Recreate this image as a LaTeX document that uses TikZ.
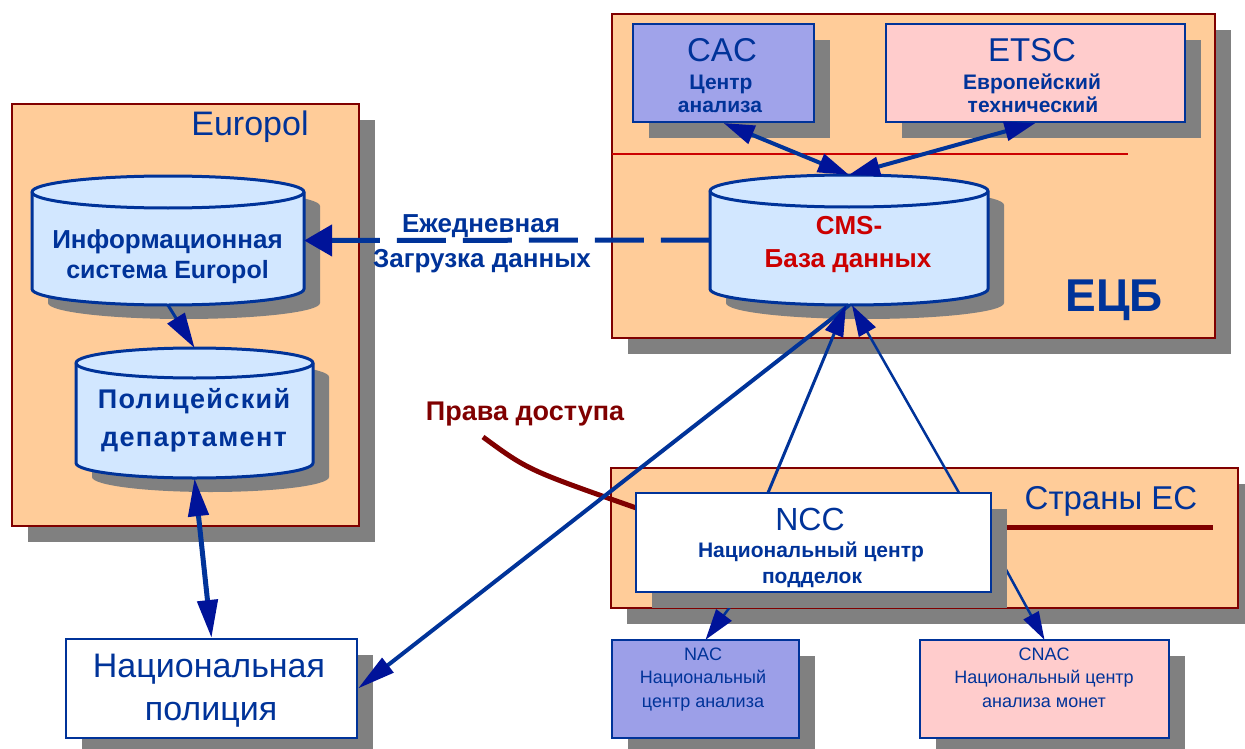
\documentclass[tikz,border=0pt]{standalone}
\usepackage{fontspec}
\setmainfont{Liberation Sans}
\newfontfamily\spbf[LetterSpace=5]{Liberation Sans}
\usetikzlibrary{arrows.meta,shadows,calc}
\definecolor{peach}{HTML}{FFCC99}
\definecolor{bordred}{HTML}{800000}
\definecolor{shad}{HTML}{808080}
\definecolor{dblue}{HTML}{003399}
\definecolor{ablue}{HTML}{001399}
\definecolor{cylfill}{HTML}{D2E7FF}
\definecolor{cacfill}{HTML}{A0A3EA}
\definecolor{nacfill}{HTML}{9C9FE8}
\definecolor{pinkfill}{HTML}{FFCCCC}
\definecolor{lred}{HTML}{CC0000}
\newcommand{\fsz}[1]{\fontsize{#1pt}{#1pt}\selectfont}
\newcommand{\drawcyl}[5]{%
\pgfmathsetmacro\cyCX{(#1+#3)/2}%
\pgfmathsetmacro\cyKX{0.5523*(#3-#1)/2}%
\pgfmathsetmacro\cyKY{0.5523*#5}%
\pgfmathsetmacro\cyTY{#2+#5}%
\pgfmathsetmacro\cyBY{#4-#5}%
\fill[shad, shift={(16,14)}] (#1,\cyTY) -- (#1,\cyBY) .. controls (#1,\cyBY+\cyKY) and (\cyCX-\cyKX,#4) .. (\cyCX,#4) .. controls (\cyCX+\cyKX,#4) and (#3,\cyBY+\cyKY) .. (#3,\cyBY) -- (#3,\cyTY) .. controls (#3,\cyTY-\cyKY) and (\cyCX+\cyKX,#2) .. (\cyCX,#2) .. controls (\cyCX-\cyKX,#2) and (#1,\cyTY-\cyKY) .. (#1,\cyTY) -- cycle;
\filldraw[fill=cylfill, draw=dblue, line width=3pt, line join=round] (#1,\cyTY) -- (#1,\cyBY) .. controls (#1,\cyBY+\cyKY) and (\cyCX-\cyKX,#4) .. (\cyCX,#4) .. controls (\cyCX+\cyKX,#4) and (#3,\cyBY+\cyKY) .. (#3,\cyBY) -- (#3,\cyTY) .. controls (#3,\cyTY-\cyKY) and (\cyCX+\cyKX,#2) .. (\cyCX,#2) .. controls (\cyCX-\cyKX,#2) and (#1,\cyTY-\cyKY) .. (#1,\cyTY) -- cycle;
\draw[dblue, line width=3pt] (#1,\cyTY) .. controls (#1,\cyTY+\cyKY) and (\cyCX-\cyKX,#2+2*#5) .. (\cyCX,#2+2*#5) .. controls (\cyCX+\cyKX,#2+2*#5) and (#3,\cyTY+\cyKY) .. (#3,\cyTY);
}
\begin{document}
\begin{tikzpicture}[x=1pt,y=-1pt,
  bigbox/.style={draw=bordred, line width=2pt, fill=peach, inner sep=0pt,
    drop shadow={shadow xshift=16pt, shadow yshift=-16pt, fill=shad, opacity=1}},
  bluebox/.style={draw=dblue, line width=2pt, inner sep=0pt,
    drop shadow={shadow xshift=16pt, shadow yshift=-16pt, fill=shad, opacity=1}},
  ghost/.style={inner sep=0pt},
  txt/.style={text=dblue, inner sep=0pt, anchor=base},
  conn/.style={draw=dblue},
  HeadS/.tip={Triangle[length=31pt,width=19pt,color=ablue]},
  HeadM/.tip={Triangle[length=35pt,width=20pt,color=ablue]},
  HeadD/.tip={Triangle[length=28pt,width=31pt,color=ablue]},
  HeadL/.tip={Triangle[length=38pt,width=20pt,color=ablue]}]
\useasboundingbox (0,0) rectangle (1245,749);
\fill[white] (0,0) rectangle (1245,749);

% large frames
\node[bigbox, minimum width=603pt, minimum height=324pt] (ecb) at (913.5,176) {};
\node[bigbox, minimum width=347pt, minimum height=422pt] (europol) at (185.5,315) {};
\node[bigbox, minimum width=627pt, minimum height=140pt] (eu) at (924.5,538) {};

% red line in ECB
\coordinate (redL) at (612,154);
\coordinate (redR) at (1128,154);
\draw[lred, line width=2pt] (redL) -- (redR);

% CAC and ETSC
\node[bluebox, fill=cacfill, minimum width=181pt, minimum height=98pt] (cac) at (723.5,73) {};
\node[bluebox, fill=pinkfill, minimum width=299pt, minimum height=98pt] (etsc) at (1035.5,73) {};

% cylinders
\drawcyl{710}{175}{988}{305}{16}
\node[ghost, minimum width=278pt, minimum height=130pt] (cms) at (849,240) {};
\drawcyl{32}{176}{304}{305}{16}
\node[ghost, minimum width=272pt, minimum height=129pt] (info) at (168,240.5) {};
\drawcyl{76}{348}{313}{478}{15}
\node[ghost, minimum width=237pt, minimum height=130pt] (pdept) at (194.5,413) {};

% dark red line under "Страны ЕС"
\coordinate (euL) at (1000,527);
\coordinate (euR) at (1213,527);
\draw[bordred, line width=5pt] (euL) -- (euR);

% NCC placeholder for connectors drawn beneath it
\node[ghost, minimum width=355pt, minimum height=99pt] (ncc) at (813.5,542.5) {};

% access rights curve
\coordinate (prS) at (483,437);
\draw[bordred, line width=5pt] (prS) .. controls (528,470) .. ([yshift=-15pt]ncc.north west);

% lower boxes
\node[ghost, minimum width=187pt, minimum height=98pt] (nac) at (705.5,689) {};
\node[ghost, minimum width=249pt, minimum height=98pt] (cnac) at (1044.5,689) {};
\draw[conn, line width=2.5pt, -{Triangle[length=31pt,width=19pt,color=ablue]}] ([xshift=-72.5pt]ncc.south) -- (nac.north);
\draw[conn, line width=2.5pt, -{Triangle[length=28pt,width=17pt,color=ablue]}] (ncc.east) -- (cnac.north);

\node[bluebox, fill=white, minimum width=355pt, minimum height=99pt] (nccbox) at (ncc.center) {};
\node[bluebox, fill=nacfill, minimum width=187pt, minimum height=98pt] (nacbox) at (nac.center) {};
\node[bluebox, fill=pinkfill, minimum width=249pt, minimum height=98pt] (cnacbox) at (cnac.center) {};
\node[bluebox, fill=white, minimum width=291pt, minimum height=99pt] (natpol) at (211.5,688.5) {};

% connectors
\draw[conn, line width=4pt, {HeadS}-{HeadS}] (cac.south) -- (cms.north);
\draw[conn, line width=4pt, {HeadS}-{HeadS}] (etsc.south) -- (cms.north);
\draw[conn, line width=3pt, -{HeadM}] (info.south) -- (pdept.north);
\draw[conn, line width=5pt, {HeadL}-{HeadL}] (pdept.south) -- (natpol.north);
\draw[conn, line width=4pt, -{Triangle[length=38pt,width=18pt,color=ablue]}] (cms.south) -- (natpol.east);
\draw[conn, line width=3pt, -{HeadS}] ([xshift=-45.5pt]ncc.north) -- ([xshift=-3pt]cms.south);
\draw[conn, line width=2.5pt, -{HeadS}] ([xshift=145.5pt]ncc.north) -- ([xshift=3pt]cms.south);
\draw[conn, line width=5pt, dash pattern=on 49pt off 17pt, -{HeadD}] (cms.west) -- (info.east);

% texts
\node[txt, font=\bfseries\fsz{46}] (ecbT) at (1114,311) {ЕЦБ};
\node[txt, font=\fsz{34}] (europolT) at (250,136) {Europol};
\node[txt, font=\fsz{33}] (euT) at (1111,509) {Страны ЕС};
\node[txt, font=\fsz{33}] (cacT1) at (722,62) {CAC};
\node[txt, font=\bfseries\fsz{21}] (cacT2) at (721,90) {Центр};
\node[txt, font=\bfseries\fsz{21}] (cacT3) at (720,113) {анализа};
\node[txt, font=\fsz{33}] (etscT1) at (1032,62) {ETSC};
\node[txt, font=\bfseries\fsz{21}] (etscT2) at (1032,90) {Европейский};
\node[txt, font=\bfseries\fsz{21}] (etscT3) at (1033,113) {технический};
\node[txt, text=lred, font=\bfseries\fsz{26}] (cmsT1) at (849,234) {CMS-};
\node[txt, text=lred, font=\bfseries\fsz{26}] (cmsT2) at (848,267) {База данных};
\node[txt, font=\bfseries\fsz{26}] (infoT1) at (167.5,248) {Информационная};
\node[txt, font=\bfseries\fsz{25}] (infoT2) at (167.5,278) {система Europol};
\node[txt, font=\spbf\bfseries\fsz{27}] (pdT1) at (194,408) {Полицейский};
\node[txt, font=\spbf\bfseries\fsz{27}] (pdT2) at (194,446) {департамент};
\node[txt, font=\bfseries\fsz{26}] (dlT1) at (481,232) {Ежедневная};
\node[txt, font=\bfseries\fsz{26}] (dlT2) at (482,267) {Загрузка данных};
\node[txt, text=bordred, font=\bfseries\fsz{27}] (prT) at (525,420) {Права доступа};
\node[txt, font=\fsz{32}] (nccT1) at (810,530) {NCC};
\node[txt, font=\bfseries\fsz{21}] (nccT2) at (811,557) {Национальный центр};
\node[txt, font=\bfseries\fsz{21}] (nccT3) at (812,583) {подделок};
\node[txt, font=\fsz{18}] (nacT1) at (703,660) {NAC};
\node[txt, font=\fsz{18}] (nacT2) at (703,683) {Национальный};
\node[txt, font=\fsz{18}] (nacT3) at (703,707) {центр анализа};
\node[txt, font=\fsz{18}] (cnacT1) at (1044,660) {CNAC};
\node[txt, font=\fsz{18}] (cnacT2) at (1044,683) {Национальный центр};
\node[txt, font=\fsz{18}] (cnacT3) at (1044,707) {анализа монет};
\node[txt, font=\fsz{34}] (npT1) at (209,677) {Национальная};
\node[txt, font=\fsz{34}] (npT2) at (211,720) {полиция};
\end{tikzpicture}
\end{document}
